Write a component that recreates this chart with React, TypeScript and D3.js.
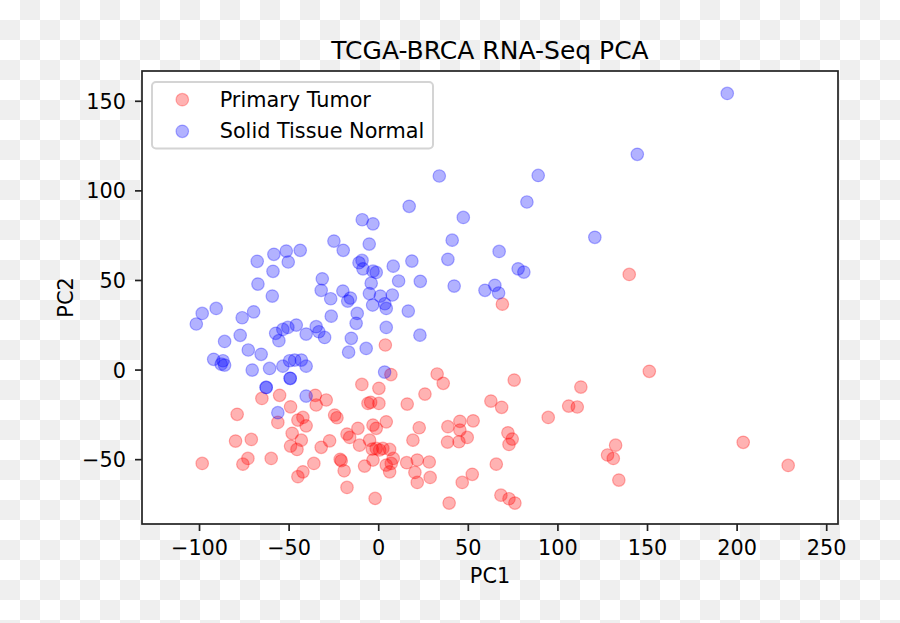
import React from "react";
import * as d3 from "d3";

const title = "TCGA-BRCA RNA-Seq PCA";
const xLabel = "PC1";
const yLabel = "PC2";
const seriesNames = ["Primary Tumor", "Solid Tissue Normal"];
const seriesColors = ["red", "blue"];

const xTicks = [-100, -50, 0, 50, 100, 150, 200, 250];
const yTicks = [-50, 0, 50, 100, 150];

const tumorPC1 = [
  139.8, 69.0, 3.7, 6.8, -9.4, 0.1, -35.4, -29.3, -34.9, -55.3, -65.2, -49.2, -6.0, -4.5, 0.1,
  -79.0, -45.1, -42.3, -40.5, -56.3, -24.6, -23.3, -48.3, -43.2, -49.2, -45.6, -32.1, -27.4,
  -17.7, -16.2, -11.6, -3.2, -1.4, 4.2, -10.7, -5.1, -3.6, -1.4, 0.5, 2.3, 6.1, -79.9, -71.1,
  -98.5, -75.8, -73.0, -60.0, -36.2, -21.5, -20.9, -19.3, -42.3, -45.1, -7.9, -3.2, 4.2, 7.0,
  6.1, -17.7, -2.0, 32.6, 36.0, 75.6, 112.8, 25.8, 15.9, 62.6, 68.6, 106.0, 110.8, 94.6, 22.6,
  38.6, 45.3, 52.7, 45.3, 49.4, 19.1, 38.4, 44.8, 72.1, 74.5, 72.7, 8.1, 15.6, 21.5, 28.2, 20.2,
  21.5, 28.7, 52.2, 46.6, 65.6, 127.7, 130.9, 132.2, 134.0, 39.3, 68.2, 72.7, 76.0, 151.0,
  203.4, 228.5,
];
const tumorPC2 = [
  53.4, 36.8, 14.0, -2.5, -8.0, -10.2, -14.1, -16.7, -19.5, -14.1, -15.8, -20.5, -18.6, -18.0,
  -18.6, -24.7, -27.9, -26.4, -31.1, -29.2, -25.1, -26.6, -35.3, -39.1, -42.4, -44.3, -43.1,
  -39.5, -35.7, -37.6, -32.5, -30.7, -32.5, -28.9, -41.9, -39.1, -44.1, -43.7, -44.6, -43.7,
  -44.3, -39.6, -38.7, -52.1, -52.5, -49.3, -49.3, -52.1, -49.8, -50.6, -56.2, -56.8, -59.5,
  -53.6, -50.2, -53.0, -52.1, -56.8, -65.5, -71.6, -2.2, -7.4, -5.6, -9.5, -13.4, -19.0, -17.3,
  -20.8, -20.1, -20.6, -26.4, -32.2, -31.6, -28.6, -28.3, -33.5, -37.6, -39.1, -40.2, -40.0,
  -35.0, -38.5, -41.5, -49.3, -51.7, -50.2, -51.3, -57.1, -62.7, -59.9, -58.2, -62.7, -52.5,
  -47.4, -49.3, -41.9, -61.4, -74.2, -69.8, -71.8, -74.2, -0.7, -40.3, -53.2,
];

const normalPC1 = [
  194.5, 144.3, 89.0, 33.8, 82.7, 17.0, 47.2, 120.6, 41.0, 18.5, 8.1, 38.6, 67.2, 77.8, 81.0,
  11.1, 23.2, 42.1, 59.3, 64.8, 66.9, 0.9, 7.6, -9.2, -3.2, -25.0, -19.8, -5.3, -67.8, -58.5,
  -51.6, -43.8, -50.5, -59.0, -67.4, -31.5, -32.1, -20.0, -11.0, -9.3, -8.8, -3.2, -1.4, -4.2,
  -26.8, -59.4, -17.3, -15.8, -98.5, -90.7, -101.8, -76.2, -69.8, -26.5, -12.0, -12.6, 4.2, 16.5,
  23.0, -86.0, -77.3, -57.5, -53.5, -50.7, -46.0, -55.7, -40.5, -34.9, -33.4, -30.2, -15.3,
  -16.8, -7.0, -72.8, -65.6, -92.1, -86.9, -86.0, -87.9, -70.6, -60.9, -53.5, -49.7, -46.9,
  -43.2, -40.5, -49.4, -49.4, -62.8, -62.8, -40.5, -56.3, 3.3, 3.4, 4.2, -3.4, -5.2,
];
const normalPC2 = [
  154.4, 120.4, 108.6, 108.3, 93.8, 91.4, 85.2, 74.1, 72.5, 60.8, 58.0, 61.8, 66.2, 56.5, 54.7,
  49.7, 49.5, 46.9, 44.5, 47.3, 43.0, 41.3, 41.9, 83.9, 81.6, 72.0, 66.8, 70.3, 60.7, 64.6, 66.4,
  66.8, 60.3, 55.1, 48.0, 50.9, 44.5, 44.1, 59.9, 61.2, 56.5, 55.2, 54.5, 48.5, 39.8, 41.3, 38.5,
  40.2, 31.6, 34.4, 25.7, 29.2, 32.5, 30.1, 31.6, 26.1, 23.8, 32.9, 19.5, 16.0, 19.4, 20.5, 22.7,
  23.8, 25.1, 16.4, 20.1, 24.2, 21.4, 18.2, 17.7, 10.0, 12.1, 11.2, 8.8, 6.0, 5.2, 2.8, 3.3, 0.0,
  0.9, 2.2, 5.2, 5.6, 5.6, 2.2, -4.6, -4.6, -9.7, -9.7, -14.5, -23.8, -1.1, 37.0, 34.4, 36.3,
  42.7,
];

const W = 900;
const H = 623;
const L = 142, R = 838, T = 71, B = 524;
const FONT = "DejaVu Sans, sans-serif";
const MR = 6.25;

export default function App() {
  const x = d3.scaleLinear().domain([-132.1, 256.3]).range([L, R]);
  const y = d3.scaleLinear().domain([-85.9, 166.9]).range([B, T]);
  const fmt = d3.format("");
  const series = [
    { name: seriesNames[0], color: seriesColors[0], xs: tumorPC1, ys: tumorPC2 },
    { name: seriesNames[1], color: seriesColors[1], xs: normalPC1, ys: normalPC2 },
  ];
  const spine = "#222";
  return (
    <svg
      width={W}
      height={H}
      style={{ position: "absolute", left: 0, top: 0, display: "block" }}
      fontFamily={FONT}
    >
      <defs>
        <pattern id="checker" width="40" height="40" patternUnits="userSpaceOnUse">
          <rect x="0" y="0" width="40" height="40" fill="#ffffff" />
          <rect x="20" y="0" width="20" height="20" fill="#efefef" />
          <rect x="0" y="20" width="20" height="20" fill="#efefef" />
        </pattern>
        <clipPath id="plotclip">
          <rect x={L} y={T} width={R - L} height={B - T} />
        </clipPath>
      </defs>
      <rect x="0" y="0" width={W} height={H} fill="url(#checker)" />
      <rect x={L} y={T} width={R - L} height={B - T} fill="#ffffff" />
      <g clipPath="url(#plotclip)">
        {series.map((s) =>
          s.xs.map((v, i) => (
            <circle
              key={s.name + i}
              cx={x(v)}
              cy={y(s.ys[i])}
              r={MR}
              fill={s.color}
              fillOpacity={0.3}
              stroke={s.color}
              strokeOpacity={0.3}
              strokeWidth={1.2}
            />
          ))
        )}
      </g>
      <rect x={L} y={T} width={R - L} height={B - T} fill="none" stroke={spine} strokeWidth={1.7} />
      {xTicks.map((t) => (
        <g key={"x" + t}>
          <line x1={x(t)} x2={x(t)} y1={B} y2={B + 7} stroke={spine} strokeWidth={1.7} />
          <text x={x(t)} y={555} textAnchor="middle" fontSize={20.8} fill="#000">
            {fmt(t)}
          </text>
        </g>
      ))}
      {yTicks.map((t) => (
        <g key={"y" + t}>
          <line x1={L - 7} x2={L} y1={y(t)} y2={y(t)} stroke={spine} strokeWidth={1.7} />
          <text
            x={126}
            y={y(t)}
            dy="0.36em"
            textAnchor="end"
            fontSize={20.8}
            fill="#000"
          >
            {fmt(t)}
          </text>
        </g>
      ))}
      <text x={(L + R) / 2} y={583} textAnchor="middle" fontSize={20.8} fill="#000">
        {xLabel}
      </text>
      <text
        transform={`translate(73,${(T + B) / 2}) rotate(-90)`}
        textAnchor="middle"
        fontSize={20.8}
        fill="#000"
      >
        {yLabel}
      </text>
      <text x={(L + R) / 2} y={58.5} textAnchor="middle" fontSize={25} fill="#000">
        {title}
      </text>
      <g>
        <rect
          x={152}
          y={82}
          width={281}
          height={66.5}
          rx={4}
          fill="#ffffff"
          fillOpacity={0.8}
          stroke="#d4d4d4"
          strokeWidth={2}
        />
        {series.map((s, i) => (
          <g key={"leg" + i}>
            <circle
              cx={182.3}
              cy={99.7 + i * 31.6}
              r={MR}
              fill={s.color}
              fillOpacity={0.3}
              stroke={s.color}
              strokeOpacity={0.3}
              strokeWidth={1.2}
            />
            <text x={219.7} y={106.5 + i * 31.6} fontSize={20.8} fill="#000">
              {s.name}
            </text>
          </g>
        ))}
      </g>
    </svg>
  );
}
